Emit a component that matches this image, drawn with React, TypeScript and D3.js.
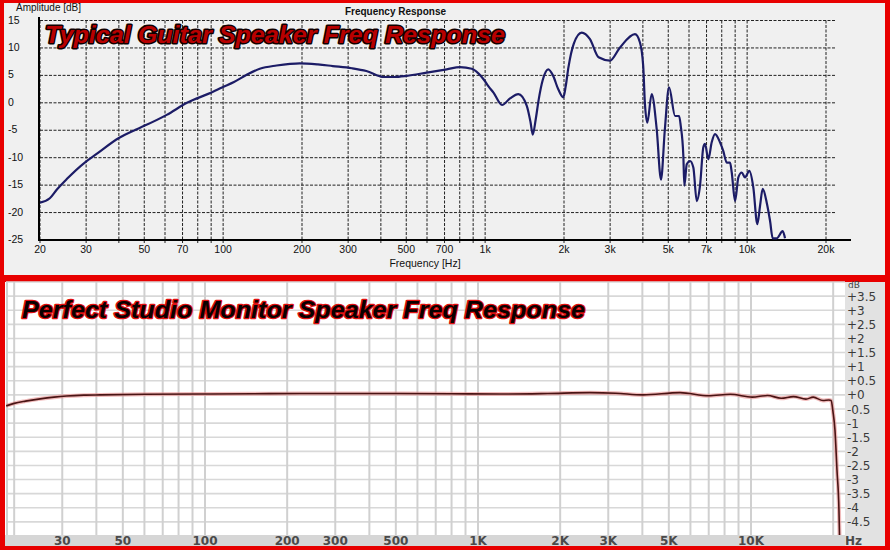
import React from 'react';
import * as d3 from 'd3';

// ---------- Top chart: Typical guitar speaker ----------
const guitarFreq = [20, 21.8, 23.2, 25.3, 29.8, 32.9, 40, 46.3, 50, 60.9, 72.8, 91.5, 99, 110, 123, 138, 160, 180, 196, 230, 262, 310, 352, 411, 450, 502, 599, 714, 802, 889, 940, 986, 1030, 1078, 1160, 1244, 1339, 1441, 1490, 1520, 1560, 1600, 1660, 1742, 1815, 1900, 1988, 2030, 2080, 2180, 2337, 2513, 2710, 2995, 3262, 3732, 3899, 4012, 4071, 4160, 4322, 4517, 4691, 4850, 5035, 5308, 5500, 5580, 5709, 5760, 5882, 6055, 6233, 6422, 6610, 6805, 6907, 7110, 7325, 7541, 7879, 8112, 8358, 8605, 8735, 8992, 9257, 9536, 9816, 10194, 10558, 10937, 11200, 11469, 11880, 12230, 12523, 12970, 13670, 13950];
const guitarDb = [-18.2, -17.4, -15.8, -13.9, -10.8, -9.3, -6.4, -4.9, -4.2, -2.2, 0.0, 2.0, 2.8, 3.8, 5.1, 6.2, 6.8, 7.1, 7.2, 7.0, 6.7, 6.3, 5.8, 4.7, 4.7, 4.9, 5.5, 6.1, 6.5, 6.2, 5.4, 4.3, 3.0, 1.8, -0.4, 0.8, 1.6, -0.5, -3.5, -5.8, -3.0, 0.5, 4.2, 6.1, 5.0, 2.5, 1.0, 3.0, 6.5, 10.8, 12.8, 11.6, 8.3, 7.7, 10.0, 12.5, 11.0, 6.7, 0.0, -3.6, 1.6, -4.8, -14.0, -5.0, 2.8, -2.4, -2.4, -4.2, -9.7, -15.1, -11.2, -10.6, -11.8, -17.9, -15.1, -8.1, -7.5, -10.3, -7.2, -5.7, -7.2, -8.8, -10.9, -10.9, -12.7, -17.9, -13.6, -12.7, -13.6, -12.4, -15.4, -22.1, -18.8, -15.7, -18.2, -21.5, -24.7, -24.7, -23.4, -24.7];
const guitarXTicks = [20, 30, 50, 70, 100, 200, 300, 500, 700, 1000, 2000, 3000, 5000, 7000, 10000, 20000];
const guitarXLabels = ['20', '30', '50', '70', '100', '200', '300', '500', '700', '1k', '2k', '3k', '5k', '7k', '10k', '20k'];
const guitarYTicks = [15, 10, 5, 0, -5, -10, -15, -20, -25];

// ---------- Bottom chart: Perfect studio monitor ----------
const studioFreq = [18.7, 20, 22, 24.9, 28, 31.1, 36, 41.3, 60, 95.9, 150, 222.8, 350, 518, 800, 1200, 1800, 2571, 3200, 4020, 5495, 7000, 8400, 10100, 11500, 12900, 14300, 15900, 16900, 18350, 19300, 19650, 19970, 20300, 20650, 21000, 21100];
const studioDb = [-0.39, -0.3, -0.22, -0.14, -0.08, -0.04, -0.01, 0.0, 0.02, 0.03, 0.04, 0.05, 0.05, 0.05, 0.04, 0.03, 0.05, 0.08, 0.06, 0.0, 0.08, -0.03, 0.02, -0.08, -0.02, -0.12, -0.06, -0.15, -0.08, -0.2, -0.18, -0.2, -0.6, -1.24, -2.66, -4.1, -5.0];
const studioXTicks = [30, 50, 100, 200, 300, 500, 1000, 2000, 3000, 5000, 10000];
const studioXLabels = ['30', '50', '100', '200', '300', '500', '1K', '2K', '3K', '5K', '10K'];
const studioYTicks = [3.5, 3, 2.5, 2, 1.5, 1, 0.5, 0, -0.5, -1, -1.5, -2, -2.5, -3, -3.5, -4, -4.5];
const studioYLabels = ['+3.5', '+3', '+2.5', '+2', '+1.5', '+1', '+0.5', '+0', '-0.5', '-1', '-1.5', '-2', '-2.5', '-3', '-3.5', '-4', '-4.5'];

export default function App() {
  // top scales
  const xT = d3.scaleLog().domain([20, 20000]).range([40, 826]);
  const yT = d3.scaleLinear().domain([-25, 15]).range([240, 20.5]);
  const topGrid = xT.ticks();
  const topLine = d3
    .line<number>()
    .x((_, i) => xT(guitarFreq[i]))
    .y((d) => yT(d))
    .curve(d3.curveMonotoneX)(guitarDb) as string;

  // bottom scales
  const xB = d3.scaleLog().domain([100, 10000]).range([205, 751]);
  const yB = d3.scaleLinear().domain([-5, 4]).range([536, 282]);
  const botGrid = d3.scaleLog().domain([20, 20000]).ticks();
  const botHGrid = d3.range(-5, 4.01, 0.5);
  const botLine = d3
    .line<number>()
    .x((_, i) => xB(studioFreq[i]))
    .y((d) => yB(d))
    .curve(d3.curveMonotoneX)(studioDb) as string;

  const sans = '"Liberation Sans", Arial, sans-serif';
  const dv = '"DejaVu Sans", Verdana, sans-serif';

  return (
    <svg width={890} height={550} style={{ position: 'absolute', left: 0, top: 0 }} xmlns="http://www.w3.org/2000/svg">
      <defs>
        <clipPath id="topClip">
          <rect x={40} y={18} width={812} height={222} />
        </clipPath>
        <clipPath id="botClip">
          <rect x={6} y={282} width={839} height={254} />
        </clipPath>
      </defs>
      <rect x={0} y={0} width={890} height={550} fill="#e80000" />

      {/* ===== TOP PANEL ===== */}
      <rect x={4} y={3} width={881} height={272} fill="#f0f0f0" />
      {topGrid.map((f, i) => (
        <line key={'tv' + i} x1={xT(f)} x2={xT(f)} y1={20.5} y2={243} stroke="#222" strokeWidth={1} strokeDasharray="3,1.5" />
      ))}
      {guitarYTicks.map((v, i) => (
        <line key={'th' + i} x1={40} x2={835} y1={yT(v)} y2={yT(v)} stroke="#222" strokeWidth={1} strokeDasharray="3,1.5" />
      ))}
      <line x1={39} x2={39} y1={17} y2={241} stroke="#000" strokeWidth={2} />
      <line x1={38} x2={851} y1={240} y2={240} stroke="#000" strokeWidth={2} />
      {guitarXTicks.map((f, i) => (
        <text key={'tx' + i} x={xT(f)} y={253} textAnchor="middle" fontFamily={sans} fontSize={10.5} fill="#111">
          {guitarXLabels[i]}
        </text>
      ))}
      {guitarYTicks.map((v, i) => (
        <text key={'ty' + i} x={8} y={yT(v) + 3} textAnchor="start" fontFamily={sans} fontSize={10.5} fill="#111">
          {v}
        </text>
      ))}
      <text x={16} y={11} fontFamily={sans} fontSize={10} fill="#111">Amplitude [dB]</text>
      <text x={395.5} y={15} textAnchor="middle" fontFamily={sans} fontSize={10} fontWeight="bold" fill="#111">Frequency Response</text>
      <text x={425} y={267} textAnchor="middle" fontFamily={sans} fontSize={10.5} fill="#111">Frequency [Hz]</text>
      <path d={topLine} fill="none" stroke="#1c1c66" strokeWidth={2.2} strokeLinejoin="round" clipPath="url(#topClip)" />
      <text x={45} y={43} fontFamily={sans} fontSize={24} fontWeight="bold" fontStyle="italic" fill="#b80000" stroke="#100000" strokeWidth={3} strokeLinejoin="round" paintOrder="stroke" textLength={460} lengthAdjust="spacingAndGlyphs">
        Typical Guitar Speaker Freq Response
      </text>

      {/* ===== BOTTOM PANEL ===== */}
      <rect x={5} y={282} width={880} height={264} fill="#ffffff" />
      {botHGrid.map((v, i) => (
        <line key={'bh' + i} x1={6} x2={845} y1={yB(v)} y2={yB(v)} stroke="#d8d8d8" strokeWidth={1.6} />
      ))}
      <line x1={7} x2={7} y1={282} y2={536} stroke="#d0d0d0" strokeWidth={2} />
      {botGrid.map((f, i) => (
        <line key={'bv' + i} x1={xB(f)} x2={xB(f)} y1={282} y2={536} stroke="#d0d0d0" strokeWidth={2} />
      ))}
      <g clipPath="url(#botClip)">
        <path d={botLine} fill="none" stroke="#e89090" strokeWidth={4} strokeOpacity={0.6} strokeLinejoin="round" />
        <path d={botLine} fill="none" stroke="#4a1414" strokeWidth={1.6} strokeLinejoin="round" />
      </g>
      <rect x={845} y={282} width={40} height={264} fill="#e2e2e2" />
      <text x={848} y={287.5} fontFamily={dv} fontSize={9} fill="#444">dB</text>
      {studioYTicks.map((v, i) => (
        <text key={'by' + i} x={847} y={yB(v) + 4.5} fontFamily={dv} fontSize={12} fill="#3a3a3a">
          {studioYLabels[i]}
        </text>
      ))}
      <rect x={5} y={535} width={840} height={11} fill="#d6d6d6" />
      {studioXTicks.map((f, i) => (
        <text key={'bx' + i} x={xB(f)} y={545} textAnchor="middle" fontFamily={dv} fontSize={12} fontWeight="bold" fill="#4a4a4a">
          {studioXLabels[i]}
        </text>
      ))}
      <text x={845} y={545} fontFamily={dv} fontSize={12} fontWeight="bold" fill="#4a4a4a">Hz</text>
      <text x={22} y={318} fontFamily={sans} fontSize={23} fontWeight="bold" fontStyle="italic" fill="#0a0000" stroke="#e01010" strokeWidth={2.5} strokeLinejoin="round" paintOrder="stroke" textLength={563} lengthAdjust="spacingAndGlyphs">
        Perfect Studio Monitor Speaker Freq Response
      </text>
    </svg>
  );
}
